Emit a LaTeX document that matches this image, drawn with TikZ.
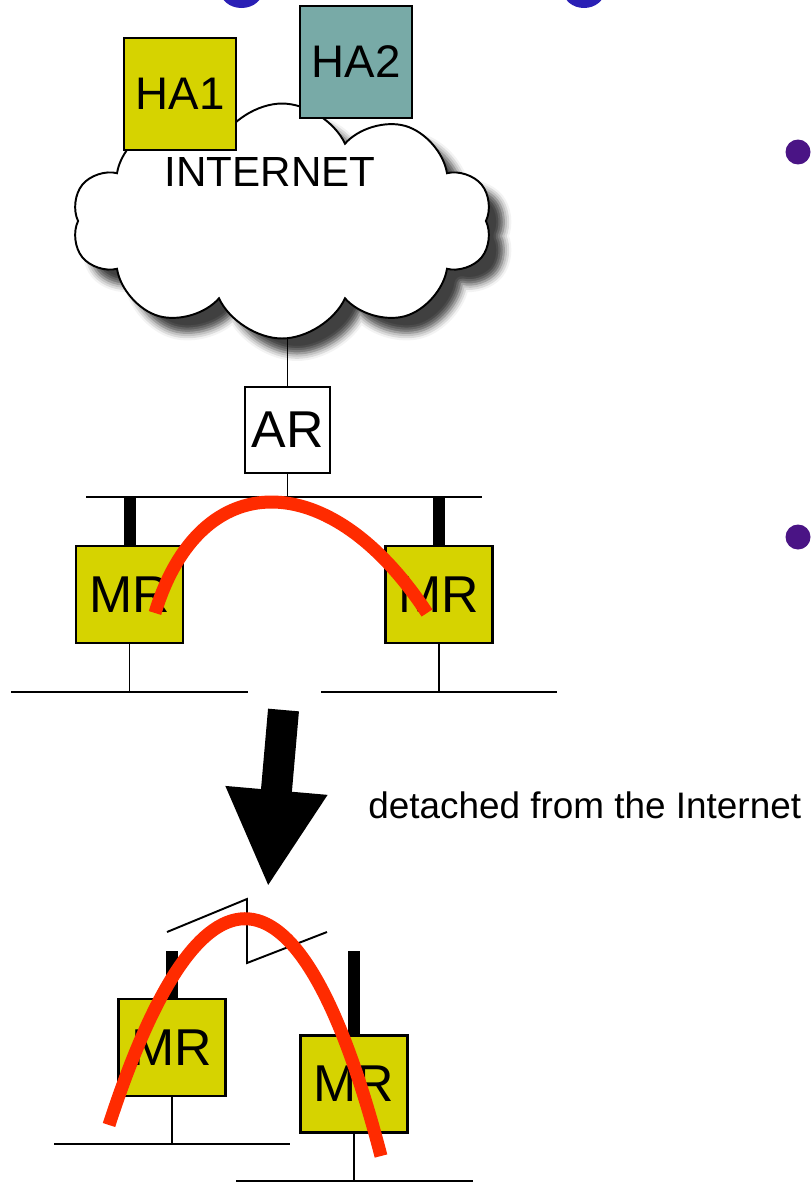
\documentclass[tikz,border=0pt]{standalone}
\usepackage{fontspec}
\setmainfont{Liberation Sans}
\usetikzlibrary{arrows.meta,positioning,shapes.symbols,shadows.blur}
\definecolor{mYellow}{HTML}{D6D300}
\definecolor{mTeal}{HTML}{78AAA7}
\definecolor{mRed}{HTML}{FF2B00}
\definecolor{mPurple}{HTML}{4A1485}
\definecolor{mBlue}{HTML}{2A1FB5}

\begin{document}
\begin{tikzpicture}[x=0.02cm,y=-0.02cm,
  box/.style={draw=black,line width=1.4pt,fill=mYellow,inner sep=0pt,font=\fontsize{29.5}{30}\selectfont},
  ha/.style={box,minimum width=2.24cm,minimum height=2.24cm,font=\fontsize{26}{27}\selectfont},
  mr/.style={box,minimum width=2.14cm,minimum height=1.94cm},
  wire/.style={line width=1.1pt},
  uplink/.style={line width=0.24cm},
  route/.style={line width=0.26cm,mRed},
  bullet/.style={circle,fill=mPurple,minimum size=0.5cm,inner sep=0pt}
]
\clip (0,0) rectangle (811,1183);
% bits of the title above
\fill[mBlue] (241.5,-10) ellipse [x radius=21.5,y radius=18];
\fill[mBlue] (584,-10) ellipse [x radius=21,y radius=18];
\node[bullet] (dot1) at (798,152) {};
\node[bullet] (dot2) at (798,537) {};
% internet
\node[cloud,cloud puffs=10,cloud puff arc=130,cloud ignores aspect,draw,line width=1.1pt,fill=white,
  minimum width=8.4cm,minimum height=4.7cm,
  blur shadow={shadow xshift=0.3cm,shadow yshift=-0.3cm,shadow blur radius=0.15cm,shadow opacity=75}] (net) at (282,221) {};
\node[ha] (ha1) at (180,94) {HA1};
\node[ha,fill=mTeal] (ha2) at (356,62) {HA2};
\node[font=\fontsize{24}{25}\selectfont] (inet) at (270,172) {INTERNET};
% attached network
\node[box,fill=white,minimum width=1.7cm,minimum height=1.72cm] (ar) at (287.5,430) {AR};
\coordinate (netfoot) at (287.5,337);
\draw[wire] (ar.north) -- (netfoot);
\coordinate (lanL) at (86,497);
\coordinate (lanR) at (482,497);
\draw[wire] (lanL) -- (lanR);
\draw[wire] (ar.south) -- (ar.south |- lanL);
\node[mr] (mra) at (129.5,594.5) {MR};
\node[mr] (mrb) at (439,594.5) {MR};
\draw[uplink] (mra.north) -- (mra.north |- lanL);
\draw[uplink] (mrb.north) -- (mrb.north |- lanL);
\coordinate (lanA1) at (11,692);
\coordinate (lanA2) at (248,692);
\coordinate (lanB1) at (321,692);
\coordinate (lanB2) at (557,692);
\draw[wire] (lanA1) -- (lanA2);
\draw[wire] (lanB1) -- (lanB2);
\draw[wire] (mra.south) -- (mra.south |- lanA1);
\draw[wire] (mrb.south) -- (mrb.south |- lanB1);
\coordinate (r1s) at (155,613);
\coordinate (r1e) at (427,613);
\draw[route] (r1s) .. controls (200,465) and (330,465) .. (r1e);
% detach
\coordinate (dtop) at (283.5,710);
\coordinate (dtip) at (268,887);
\draw[line width=0.62cm,-{Triangle[length=1.94cm,width=1.9cm]}] (dtop) -- (dtip);
\node[anchor=base west,inner sep=0pt,font=\fontsize{21}{22}\selectfont] (lbl) at (368,818) {detached from the Internet};
% detached network
\draw[wire] (167,932) -- (247,899) -- (247,963) -- (327,932);
\node[mr] (mrc) at (172,1047.5) {MR};
\node[mr] (mrd) at (354,1084) {MR};
\coordinate (antc) at (172,951);
\draw[uplink] (mrc.north) -- (antc);
\draw[uplink] (mrd.north) -- (mrd.north |- antc);
\coordinate (lanC1) at (54,1144);
\coordinate (lanC2) at (290,1144);
\coordinate (lanD1) at (236,1181);
\coordinate (lanD2) at (473,1181);
\draw[wire] (lanC1) -- (lanC2);
\draw[wire] (lanD1) -- (lanD2);
\draw[wire] (mrc.south) -- (mrc.south |- lanC1);
\draw[wire] (mrd.south) -- (mrd.south |- lanD1);
\coordinate (r2s) at (109,1125);
\coordinate (r2e) at (381,1156);
\draw[route] (r2s) .. controls (200,845) and (300,845) .. (r2e);
\end{tikzpicture}
\end{document}
